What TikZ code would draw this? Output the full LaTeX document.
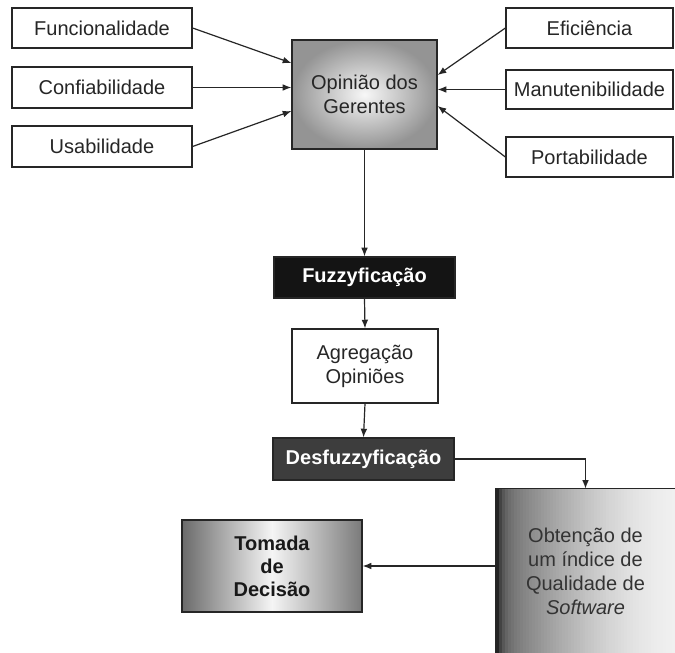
\documentclass[tikz,border=0pt]{standalone}
\usepackage{fontspec}
\setmainfont{Liberation Sans}
\usetikzlibrary{arrows.meta,calc}
\begin{document}
\begin{tikzpicture}[x=0.75pt,y=-0.75pt,
  every node/.style={font=\fontsize{15pt}{18pt}\selectfont, align=center, inner sep=0pt},
  plain/.style={draw=black!85, line width=0.9pt, fill=white, text=black!85},
  darkbox/.style={draw=black!85, line width=0.9pt, text=white, font=\fontsize{15pt}{18pt}\selectfont\bfseries},
  arr/.style={line width=0.9pt, draw=black!85, -{Latex[length=6.5pt,width=5pt]}},
  obtbox/.style={path picture={
    \foreach \i in {0,...,59}{
      \pgfmathsetmacro\tt{(\i+0.5)/60}
      \pgfmathsetmacro\dd{6+55*(1-\tt)^1.6+34*exp(-\tt/0.03)}
      \fill[black!\dd] ($(path picture bounding box.north west)+(\i*2.983,0)$) rectangle ($(path picture bounding box.south west)+(\i*2.983+3.3,0)$);
    }}}
]
\useasboundingbox[fill=white] (0,0) rectangle (675,653);
% left inputs
\node[plain, minimum width=135pt, minimum height=30pt] (fun) at (102,28) {Funcionalidade};
\node[plain, minimum width=135pt, minimum height=30.75pt] (con) at (102,87.5) {Confiabilidade};
\node[plain, minimum width=135pt, minimum height=30.75pt] (usa) at (102,146.5) {Usabilidade};
% right inputs
\node[plain, minimum width=125.25pt, minimum height=30pt] (efi) at (589.5,28) {Eficiência};
\node[plain, minimum width=125.25pt, minimum height=29.25pt] (man) at (589.5,89.5) {Manutenibilidade};
\node[plain, minimum width=125.25pt, minimum height=30pt] (por) at (589.5,157) {Portabilidade};
% central
\node[draw=black!85, line width=0.9pt, inner color=black!3, outer color=black!42, text=black!85,
      minimum width=108.75pt, minimum height=81.75pt] (op) at (364.5,94.5) {Opinião dos\\Gerentes};
\node[darkbox, fill=black!92, minimum width=135.75pt, minimum height=30.75pt] (fuz) at (364.5,277.5) {Fuzzyficação};
\node[plain, minimum width=109.5pt, minimum height=55.5pt] (agr) at (365,366) {Agregação\\Opiniões};
\node[darkbox, fill=black!76, minimum width=135.75pt, minimum height=31.5pt] (des) at (363.5,459) {Desfuzzyficação};
\node[draw=black!85, line width=0.9pt, left color=black!58, right color=black!52, middle color=black!4,
      font=\fontsize{15pt}{17.25pt}\selectfont\bfseries, text=black!90,
      minimum width=135pt, minimum height=69pt] (tom) at (272,566) {Tomada\\de\\Decisão};
\node[obtbox, text=black!80, minimum width=134.25pt, minimum height=123pt] (obt) at (585.5,571)
      {Obtenção de\\um índice de\\Qualidade de\\\textit{Software}};
\draw[line width=0.9pt, black!85] (obt.south west) -- (obt.north west) -- (obt.north east);
% connectors
\draw[arr] (fun.east) -- ([yshift=23.6pt]op.west);
\draw[arr] (con.east) -- (con.east -| op.west);
\draw[arr] (usa.east) -- ([yshift=-12.4pt]op.west);
\draw[arr] (efi.west) -- ([yshift=14.6pt]op.east);
\draw[arr] (man.west) -- (man.west -| op.east);
\draw[arr] (por.west) -- ([yshift=-8.6pt]op.east);
\draw[arr] (op.south) -- (fuz.north);
\draw[arr] (fuz.south) -- (agr.north);
\draw[arr] (agr.south) -- (des.north);
\draw[arr] (des.east) -| (obt.north);
\draw[arr] (tom.east -| obt.west) -- (tom.east);
\end{tikzpicture}
\end{document}
